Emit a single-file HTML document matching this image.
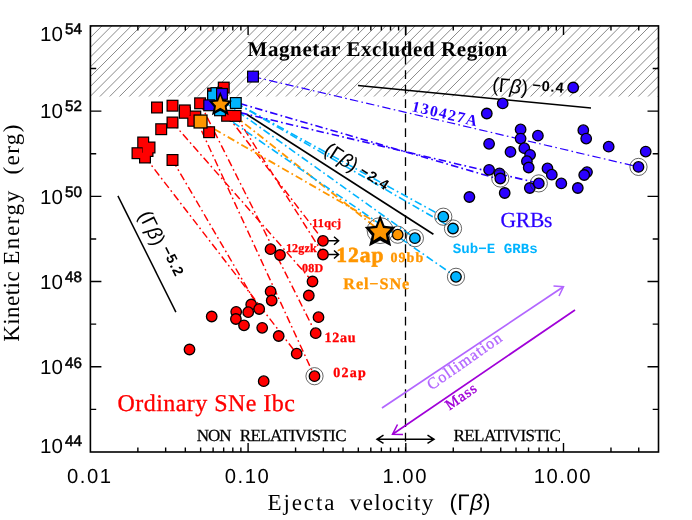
<!DOCTYPE html>
<html><head><meta charset="utf-8"><title>Kinetic energy vs ejecta velocity</title>
<style>html,body{margin:0;padding:0;background:#fff;}body{width:692px;height:520px;overflow:hidden;font-family:"Liberation Sans",sans-serif;}svg{display:block;will-change:transform;}text{text-rendering:geometricPrecision;}</style></head>
<body>
<svg width="692" height="520" viewBox="0 0 692 520">
<rect width="692" height="520" fill="#fff"/>
<defs>
<clipPath id="hc"><rect x="90.4" y="25.9" width="568.1" height="70.5"/></clipPath>
<clipPath id="pc"><rect x="90.4" y="25.9" width="568.1" height="426.1"/></clipPath>
</defs>
<g clip-path="url(#hc)" stroke="#6c6c6c" stroke-width="0.8" fill="none">
<line x1="-103.56" y1="25.90" x2="-178.56" y2="100.90"/>
<line x1="-93.77" y1="25.90" x2="-168.77" y2="100.90"/>
<line x1="-83.98" y1="25.90" x2="-158.98" y2="100.90"/>
<line x1="-74.20" y1="25.90" x2="-149.20" y2="100.90"/>
<line x1="-64.41" y1="25.90" x2="-139.41" y2="100.90"/>
<line x1="-54.62" y1="25.90" x2="-129.62" y2="100.90"/>
<line x1="-44.83" y1="25.90" x2="-119.83" y2="100.90"/>
<line x1="-35.04" y1="25.90" x2="-110.04" y2="100.90"/>
<line x1="-25.26" y1="25.90" x2="-100.26" y2="100.90"/>
<line x1="-15.47" y1="25.90" x2="-90.47" y2="100.90"/>
<line x1="-5.68" y1="25.90" x2="-80.68" y2="100.90"/>
<line x1="4.11" y1="25.90" x2="-70.89" y2="100.90"/>
<line x1="13.90" y1="25.90" x2="-61.10" y2="100.90"/>
<line x1="23.68" y1="25.90" x2="-51.32" y2="100.90"/>
<line x1="33.47" y1="25.90" x2="-41.53" y2="100.90"/>
<line x1="43.26" y1="25.90" x2="-31.74" y2="100.90"/>
<line x1="53.05" y1="25.90" x2="-21.95" y2="100.90"/>
<line x1="62.84" y1="25.90" x2="-12.16" y2="100.90"/>
<line x1="72.62" y1="25.90" x2="-2.38" y2="100.90"/>
<line x1="82.41" y1="25.90" x2="7.41" y2="100.90"/>
<line x1="92.20" y1="25.90" x2="17.20" y2="100.90"/>
<line x1="101.99" y1="25.90" x2="26.99" y2="100.90"/>
<line x1="111.78" y1="25.90" x2="36.78" y2="100.90"/>
<line x1="121.56" y1="25.90" x2="46.56" y2="100.90"/>
<line x1="131.35" y1="25.90" x2="56.35" y2="100.90"/>
<line x1="141.14" y1="25.90" x2="66.14" y2="100.90"/>
<line x1="150.93" y1="25.90" x2="75.93" y2="100.90"/>
<line x1="160.72" y1="25.90" x2="85.72" y2="100.90"/>
<line x1="170.50" y1="25.90" x2="95.50" y2="100.90"/>
<line x1="180.29" y1="25.90" x2="105.29" y2="100.90"/>
<line x1="190.08" y1="25.90" x2="115.08" y2="100.90"/>
<line x1="199.87" y1="25.90" x2="124.87" y2="100.90"/>
<line x1="209.66" y1="25.90" x2="134.66" y2="100.90"/>
<line x1="219.44" y1="25.90" x2="144.44" y2="100.90"/>
<line x1="229.23" y1="25.90" x2="154.23" y2="100.90"/>
<line x1="239.02" y1="25.90" x2="164.02" y2="100.90"/>
<line x1="248.81" y1="25.90" x2="173.81" y2="100.90"/>
<line x1="258.60" y1="25.90" x2="183.60" y2="100.90"/>
<line x1="268.38" y1="25.90" x2="193.38" y2="100.90"/>
<line x1="278.17" y1="25.90" x2="203.17" y2="100.90"/>
<line x1="287.96" y1="25.90" x2="212.96" y2="100.90"/>
<line x1="297.75" y1="25.90" x2="222.75" y2="100.90"/>
<line x1="307.54" y1="25.90" x2="232.54" y2="100.90"/>
<line x1="317.32" y1="25.90" x2="242.32" y2="100.90"/>
<line x1="327.11" y1="25.90" x2="252.11" y2="100.90"/>
<line x1="336.90" y1="25.90" x2="261.90" y2="100.90"/>
<line x1="346.69" y1="25.90" x2="271.69" y2="100.90"/>
<line x1="356.48" y1="25.90" x2="281.48" y2="100.90"/>
<line x1="366.26" y1="25.90" x2="291.26" y2="100.90"/>
<line x1="376.05" y1="25.90" x2="301.05" y2="100.90"/>
<line x1="385.84" y1="25.90" x2="310.84" y2="100.90"/>
<line x1="395.63" y1="25.90" x2="320.63" y2="100.90"/>
<line x1="405.42" y1="25.90" x2="330.42" y2="100.90"/>
<line x1="415.20" y1="25.90" x2="340.20" y2="100.90"/>
<line x1="424.99" y1="25.90" x2="349.99" y2="100.90"/>
<line x1="434.78" y1="25.90" x2="359.78" y2="100.90"/>
<line x1="444.57" y1="25.90" x2="369.57" y2="100.90"/>
<line x1="454.36" y1="25.90" x2="379.36" y2="100.90"/>
<line x1="464.14" y1="25.90" x2="389.14" y2="100.90"/>
<line x1="473.93" y1="25.90" x2="398.93" y2="100.90"/>
<line x1="483.72" y1="25.90" x2="408.72" y2="100.90"/>
<line x1="493.51" y1="25.90" x2="418.51" y2="100.90"/>
<line x1="503.30" y1="25.90" x2="428.30" y2="100.90"/>
<line x1="513.08" y1="25.90" x2="438.08" y2="100.90"/>
<line x1="522.87" y1="25.90" x2="447.87" y2="100.90"/>
<line x1="532.66" y1="25.90" x2="457.66" y2="100.90"/>
<line x1="542.45" y1="25.90" x2="467.45" y2="100.90"/>
<line x1="552.24" y1="25.90" x2="477.24" y2="100.90"/>
<line x1="562.02" y1="25.90" x2="487.02" y2="100.90"/>
<line x1="571.81" y1="25.90" x2="496.81" y2="100.90"/>
<line x1="581.60" y1="25.90" x2="506.60" y2="100.90"/>
<line x1="591.39" y1="25.90" x2="516.39" y2="100.90"/>
<line x1="601.18" y1="25.90" x2="526.18" y2="100.90"/>
<line x1="610.96" y1="25.90" x2="535.96" y2="100.90"/>
<line x1="620.75" y1="25.90" x2="545.75" y2="100.90"/>
<line x1="630.54" y1="25.90" x2="555.54" y2="100.90"/>
<line x1="640.33" y1="25.90" x2="565.33" y2="100.90"/>
<line x1="650.12" y1="25.90" x2="575.12" y2="100.90"/>
<line x1="659.90" y1="25.90" x2="584.90" y2="100.90"/>
<line x1="669.69" y1="25.90" x2="594.69" y2="100.90"/>
<line x1="679.48" y1="25.90" x2="604.48" y2="100.90"/>
<line x1="689.27" y1="25.90" x2="614.27" y2="100.90"/>
<line x1="699.06" y1="25.90" x2="624.06" y2="100.90"/>
<line x1="708.84" y1="25.90" x2="633.84" y2="100.90"/>
<line x1="718.63" y1="25.90" x2="643.63" y2="100.90"/>
<line x1="728.42" y1="25.90" x2="653.42" y2="100.90"/>
<line x1="738.21" y1="25.90" x2="663.21" y2="100.90"/>
</g>
<line x1="405.5" y1="25.9" x2="405.5" y2="452.0" stroke="#000" stroke-width="1.3" stroke-dasharray="8.8 5.7" stroke-dashoffset="-0.9"/>
<line x1="117.9" y1="195.9" x2="175.9" y2="312.1" stroke="#000" stroke-width="1.5"/>
<line x1="247" y1="114.5" x2="433.4" y2="234.3" stroke="#000" stroke-width="1.7"/>
<line x1="358" y1="85.5" x2="591" y2="108.1" stroke="#000" stroke-width="1.5"/>
<line x1="145.0" y1="157.0" x2="296.7" y2="353.7" stroke="#ff0000" stroke-width="1.45" stroke-dasharray="7.6 3.2 1.7 3.2" fill="none"/>
<line x1="172.5" y1="160.0" x2="259.2" y2="308.7" stroke="#ff0000" stroke-width="1.45" stroke-dasharray="7.6 3.2 1.7 3.2" fill="none"/>
<line x1="172.5" y1="122.5" x2="312.5" y2="281.5" stroke="#ff0000" stroke-width="1.45" stroke-dasharray="7.6 3.2 1.7 3.2" fill="none"/>
<line x1="195.0" y1="116.5" x2="314.5" y2="376.2" stroke="#ff0000" stroke-width="1.45" stroke-dasharray="7.6 3.2 1.7 3.2" fill="none"/>
<line x1="200.1" y1="103.3" x2="315.7" y2="333.2" stroke="#ff0000" stroke-width="1.45" stroke-dasharray="7.6 3.2 1.7 3.2" fill="none"/>
<line x1="227.1" y1="115.3" x2="323.0" y2="240.0" stroke="#ff0000" stroke-width="1.45" stroke-dasharray="7.6 3.2 1.7 3.2" fill="none"/>
<line x1="235.9" y1="115.9" x2="323.0" y2="253.7" stroke="#ff0000" stroke-width="1.45" stroke-dasharray="7.6 3.2 1.7 3.2" fill="none"/>
<line x1="220.5" y1="104.6" x2="379.7" y2="230.6" stroke="#ff9600" stroke-width="1.80" stroke-dasharray="7.6 3.2 1.7 3.2" fill="none"/>
<line x1="200.5" y1="121.2" x2="397.7" y2="234.7" stroke="#ff9600" stroke-width="1.80" stroke-dasharray="7.6 3.2 1.7 3.2" fill="none"/>
<line x1="212.4" y1="93.3" x2="414.9" y2="238.2" stroke="#00b4ff" stroke-width="1.60" stroke-dasharray="7.6 3.2 1.7 3.2" fill="none"/>
<line x1="220.2" y1="113.4" x2="456.0" y2="276.8" stroke="#00b4ff" stroke-width="1.60" stroke-dasharray="7.6 3.2 1.7 3.2" fill="none"/>
<line x1="235.9" y1="103.0" x2="443.3" y2="216.7" stroke="#00b4ff" stroke-width="1.60" stroke-dasharray="7.6 3.2 1.7 3.2" fill="none"/>
<line x1="235.9" y1="103.0" x2="453.0" y2="228.5" stroke="#00b4ff" stroke-width="1.60" stroke-dasharray="7.6 3.2 1.7 3.2" fill="none"/>
<line x1="240.0" y1="103.6" x2="499.7" y2="179.3" stroke="#2a00ff" stroke-width="1.60" stroke-dasharray="7.6 3.2 1.7 3.2" fill="none"/>
<line x1="240.0" y1="112.6" x2="538.7" y2="183.2" stroke="#2a00ff" stroke-width="1.60" stroke-dasharray="7.6 3.2 1.7 3.2" fill="none"/>
<line x1="253.0" y1="76.6" x2="638.5" y2="166.9" stroke="#2a00ff" stroke-width="1.20" stroke-dasharray="8.4 3.3 1.6 3.3" fill="none"/>
<rect x="207.70" y="88.20" width="10.80" height="10.80" fill="#ff0000" stroke="#000" stroke-width="1.20"/>
<rect x="217.75" y="81.60" width="12" height="12" fill="#000"/>
<rect x="151.00" y="101.50" width="12" height="12" fill="#000"/>
<rect x="166.50" y="99.70" width="12" height="12" fill="#000"/>
<rect x="178.80" y="104.40" width="12" height="12" fill="#000"/>
<rect x="178.80" y="106.80" width="12" height="12" fill="#000"/>
<rect x="194.10" y="97.30" width="12" height="12" fill="#000"/>
<rect x="187.20" y="114.80" width="12" height="12" fill="#000"/>
<rect x="189.30" y="110.50" width="12" height="12" fill="#000"/>
<rect x="166.50" y="116.50" width="12" height="12" fill="#000"/>
<rect x="155.20" y="123.20" width="12" height="12" fill="#000"/>
<rect x="203.10" y="126.20" width="12" height="12" fill="#000"/>
<rect x="166.50" y="154.00" width="12" height="12" fill="#000"/>
<rect x="137.20" y="136.50" width="12" height="12" fill="#000"/>
<rect x="143.50" y="141.50" width="12" height="12" fill="#000"/>
<rect x="131.50" y="147.20" width="12" height="12" fill="#000"/>
<rect x="141.50" y="145.00" width="12" height="12" fill="#000"/>
<rect x="139.00" y="151.50" width="12" height="12" fill="#000"/>
<rect x="221.10" y="109.80" width="12" height="12" fill="#000"/>
<rect x="229.60" y="109.90" width="12" height="12" fill="#000"/>
<rect x="218.95" y="82.80" width="9.6" height="9.6" fill="#ff0000"/>
<rect x="152.20" y="102.70" width="9.6" height="9.6" fill="#ff0000"/>
<rect x="167.70" y="100.90" width="9.6" height="9.6" fill="#ff0000"/>
<rect x="180.00" y="105.60" width="9.6" height="9.6" fill="#ff0000"/>
<rect x="180.00" y="108.00" width="9.6" height="9.6" fill="#ff0000"/>
<rect x="195.30" y="98.50" width="9.6" height="9.6" fill="#ff0000"/>
<rect x="188.40" y="116.00" width="9.6" height="9.6" fill="#ff0000"/>
<rect x="190.50" y="111.70" width="9.6" height="9.6" fill="#ff0000"/>
<rect x="167.70" y="117.70" width="9.6" height="9.6" fill="#ff0000"/>
<rect x="156.40" y="124.40" width="9.6" height="9.6" fill="#ff0000"/>
<rect x="204.30" y="127.40" width="9.6" height="9.6" fill="#ff0000"/>
<rect x="167.70" y="155.20" width="9.6" height="9.6" fill="#ff0000"/>
<rect x="138.40" y="137.70" width="9.6" height="9.6" fill="#ff0000"/>
<rect x="144.70" y="142.70" width="9.6" height="9.6" fill="#ff0000"/>
<rect x="132.70" y="148.40" width="9.6" height="9.6" fill="#ff0000"/>
<rect x="142.70" y="146.20" width="9.6" height="9.6" fill="#ff0000"/>
<rect x="140.20" y="152.70" width="9.6" height="9.6" fill="#ff0000"/>
<rect x="222.30" y="111.00" width="9.6" height="9.6" fill="#ff0000"/>
<rect x="230.80" y="111.10" width="9.6" height="9.6" fill="#ff0000"/>
<circle cx="323.00" cy="240.80" r="5.25" fill="#ff0000" stroke="#000" stroke-width="1.30"/>
<circle cx="323.00" cy="254.50" r="5.25" fill="#ff0000" stroke="#000" stroke-width="1.30"/>
<circle cx="270.50" cy="249.20" r="5.25" fill="#ff0000" stroke="#000" stroke-width="1.30"/>
<circle cx="280.00" cy="255.00" r="5.25" fill="#ff0000" stroke="#000" stroke-width="1.30"/>
<circle cx="312.50" cy="281.50" r="5.25" fill="#ff0000" stroke="#000" stroke-width="1.30"/>
<circle cx="308.80" cy="295.50" r="5.25" fill="#ff0000" stroke="#000" stroke-width="1.30"/>
<circle cx="270.60" cy="291.40" r="5.25" fill="#ff0000" stroke="#000" stroke-width="1.30"/>
<circle cx="271.70" cy="300.50" r="5.25" fill="#ff0000" stroke="#000" stroke-width="1.30"/>
<circle cx="251.20" cy="304.50" r="5.25" fill="#ff0000" stroke="#000" stroke-width="1.30"/>
<circle cx="259.20" cy="309.00" r="5.25" fill="#ff0000" stroke="#000" stroke-width="1.30"/>
<circle cx="236.20" cy="311.80" r="5.25" fill="#ff0000" stroke="#000" stroke-width="1.30"/>
<circle cx="248.20" cy="312.20" r="5.25" fill="#ff0000" stroke="#000" stroke-width="1.30"/>
<circle cx="211.70" cy="316.50" r="5.25" fill="#ff0000" stroke="#000" stroke-width="1.30"/>
<circle cx="235.90" cy="319.00" r="5.25" fill="#ff0000" stroke="#000" stroke-width="1.30"/>
<circle cx="244.00" cy="325.30" r="5.25" fill="#ff0000" stroke="#000" stroke-width="1.30"/>
<circle cx="262.20" cy="327.80" r="5.25" fill="#ff0000" stroke="#000" stroke-width="1.30"/>
<circle cx="318.50" cy="317.20" r="5.25" fill="#ff0000" stroke="#000" stroke-width="1.30"/>
<circle cx="315.70" cy="333.20" r="5.25" fill="#ff0000" stroke="#000" stroke-width="1.30"/>
<circle cx="278.70" cy="336.00" r="5.25" fill="#ff0000" stroke="#000" stroke-width="1.30"/>
<circle cx="296.70" cy="353.70" r="5.25" fill="#ff0000" stroke="#000" stroke-width="1.30"/>
<circle cx="189.50" cy="349.50" r="5.25" fill="#ff0000" stroke="#000" stroke-width="1.30"/>
<circle cx="263.70" cy="381.20" r="5.25" fill="#ff0000" stroke="#000" stroke-width="1.30"/>
<circle cx="314.50" cy="376.20" r="8.60" fill="none" stroke="#222" stroke-width="0.7"/>
<circle cx="314.50" cy="376.20" r="5.25" fill="#ff0000" stroke="#000" stroke-width="1.30"/>
<path d="M328.5 240.8 H338.3 M334 236.8 L338.6 240.8 L334 244.8" stroke="#000" stroke-width="1.5" fill="none"/>
<path d="M328.5 254.5 H338.3 M334 250.5 L338.6 254.5 L334 258.5" stroke="#000" stroke-width="1.5" fill="none"/>
<circle cx="573.20" cy="87.50" r="5.25" fill="#2a00ff" stroke="#000" stroke-width="1.30"/>
<circle cx="502.70" cy="103.40" r="5.25" fill="#2a00ff" stroke="#000" stroke-width="1.30"/>
<circle cx="486.80" cy="113.50" r="5.25" fill="#2a00ff" stroke="#000" stroke-width="1.30"/>
<circle cx="520.60" cy="129.40" r="5.25" fill="#2a00ff" stroke="#000" stroke-width="1.30"/>
<circle cx="520.60" cy="138.60" r="5.25" fill="#2a00ff" stroke="#000" stroke-width="1.30"/>
<circle cx="537.90" cy="135.70" r="5.25" fill="#2a00ff" stroke="#000" stroke-width="1.30"/>
<circle cx="583.30" cy="130.20" r="5.25" fill="#2a00ff" stroke="#000" stroke-width="1.30"/>
<circle cx="586.20" cy="138.60" r="5.25" fill="#2a00ff" stroke="#000" stroke-width="1.30"/>
<circle cx="489.10" cy="143.80" r="5.25" fill="#2a00ff" stroke="#000" stroke-width="1.30"/>
<circle cx="510.50" cy="151.90" r="5.25" fill="#2a00ff" stroke="#000" stroke-width="1.30"/>
<circle cx="524.30" cy="148.20" r="5.25" fill="#2a00ff" stroke="#000" stroke-width="1.30"/>
<circle cx="530.10" cy="154.80" r="5.25" fill="#2a00ff" stroke="#000" stroke-width="1.30"/>
<circle cx="526.90" cy="161.20" r="5.25" fill="#2a00ff" stroke="#000" stroke-width="1.30"/>
<circle cx="528.70" cy="167.50" r="5.25" fill="#2a00ff" stroke="#000" stroke-width="1.30"/>
<circle cx="608.70" cy="146.70" r="5.25" fill="#2a00ff" stroke="#000" stroke-width="1.30"/>
<circle cx="645.70" cy="151.60" r="5.25" fill="#2a00ff" stroke="#000" stroke-width="1.30"/>
<circle cx="489.10" cy="169.80" r="5.25" fill="#2a00ff" stroke="#000" stroke-width="1.30"/>
<circle cx="499.50" cy="173.30" r="5.25" fill="#2a00ff" stroke="#000" stroke-width="1.30"/>
<circle cx="547.50" cy="168.40" r="5.25" fill="#2a00ff" stroke="#000" stroke-width="1.30"/>
<circle cx="551.80" cy="174.70" r="5.25" fill="#2a00ff" stroke="#000" stroke-width="1.30"/>
<circle cx="587.00" cy="172.10" r="5.25" fill="#2a00ff" stroke="#000" stroke-width="1.30"/>
<circle cx="584.20" cy="175.00" r="5.25" fill="#2a00ff" stroke="#000" stroke-width="1.30"/>
<circle cx="529.80" cy="188.00" r="5.25" fill="#2a00ff" stroke="#000" stroke-width="1.30"/>
<circle cx="561.30" cy="183.40" r="5.25" fill="#2a00ff" stroke="#000" stroke-width="1.30"/>
<circle cx="577.80" cy="188.00" r="5.25" fill="#2a00ff" stroke="#000" stroke-width="1.30"/>
<circle cx="504.70" cy="193.00" r="5.25" fill="#2a00ff" stroke="#000" stroke-width="1.30"/>
<circle cx="469.40" cy="197.00" r="5.25" fill="#2a00ff" stroke="#000" stroke-width="1.30"/>
<circle cx="638.50" cy="166.90" r="8.60" fill="none" stroke="#222" stroke-width="0.7"/>
<circle cx="638.50" cy="166.90" r="5.25" fill="#2a00ff" stroke="#000" stroke-width="1.30"/>
<circle cx="500.30" cy="178.50" r="8.60" fill="none" stroke="#222" stroke-width="0.7"/>
<circle cx="500.30" cy="178.50" r="5.25" fill="#2a00ff" stroke="#000" stroke-width="1.30"/>
<circle cx="538.80" cy="183.40" r="8.60" fill="none" stroke="#222" stroke-width="0.7"/>
<circle cx="538.80" cy="183.40" r="5.25" fill="#2a00ff" stroke="#000" stroke-width="1.30"/>
<circle cx="414.90" cy="238.20" r="8.60" fill="none" stroke="#222" stroke-width="0.7"/>
<circle cx="414.90" cy="238.20" r="5.25" fill="#00b4ff" stroke="#000" stroke-width="1.30"/>
<circle cx="443.30" cy="216.70" r="8.60" fill="none" stroke="#222" stroke-width="0.7"/>
<circle cx="443.30" cy="216.70" r="5.25" fill="#00b4ff" stroke="#000" stroke-width="1.30"/>
<circle cx="453.00" cy="228.50" r="8.60" fill="none" stroke="#222" stroke-width="0.7"/>
<circle cx="453.00" cy="228.50" r="5.25" fill="#00b4ff" stroke="#000" stroke-width="1.30"/>
<circle cx="456.00" cy="276.80" r="8.60" fill="none" stroke="#222" stroke-width="0.7"/>
<circle cx="456.00" cy="276.80" r="5.25" fill="#00b4ff" stroke="#000" stroke-width="1.30"/>
<circle cx="397.70" cy="234.70" r="8.60" fill="none" stroke="#222" stroke-width="0.7"/>
<circle cx="397.70" cy="234.70" r="5.25" fill="#ff9600" stroke="#000" stroke-width="1.30"/>
<rect x="210.40" y="87.10" width="12" height="12" fill="#000"/>
<rect x="207.10" y="90.50" width="12" height="12" fill="#000"/>
<rect x="211.60" y="88.30" width="9.6" height="9.6" fill="#00b4ff"/>
<rect x="208.30" y="91.70" width="9.6" height="9.6" fill="#00b4ff"/>
<rect x="216.60" y="88.50" width="10.80" height="10.80" fill="#2a00ff" stroke="#000" stroke-width="1.20"/>
<rect x="203.80" y="99.90" width="10.80" height="10.80" fill="#2a00ff" stroke="#000" stroke-width="1.20"/>
<rect x="230.40" y="97.60" width="10.80" height="10.80" fill="#00b4ff" stroke="#000" stroke-width="1.20"/>
<rect x="214.60" y="104.90" width="10.80" height="10.80" fill="#00b4ff" stroke="#000" stroke-width="1.20"/>
<rect x="247.60" y="71.20" width="10.80" height="10.80" fill="#2a00ff" stroke="#000" stroke-width="1.20"/>
<rect x="194.10" y="115.05" width="12.90" height="12.90" fill="#ff9600" stroke="#000" stroke-width="1.30"/>
<polygon points="220.30,91.39 223.61,99.75 231.97,100.74 226.65,107.04 228.70,115.25 220.30,110.84 211.90,115.25 213.95,107.04 208.63,100.74 216.99,99.75" fill="#000"/>
<polygon points="220.30,95.64 222.54,101.50 228.09,102.03 224.59,105.83 225.43,110.84 220.30,107.65 215.17,110.84 216.01,105.83 212.51,102.03 218.06,101.50" fill="#ff9600"/>
<circle cx="380.1" cy="230.6" r="13" fill="none" stroke="#222" stroke-width="0.7"/>
<polygon points="380.15,214.80 384.50,225.80 395.50,227.10 388.50,235.40 391.20,246.20 380.15,240.40 369.10,246.20 371.80,235.40 364.80,227.10 375.80,225.80" fill="#000"/>
<polygon points="380.15,220.40 383.10,228.10 390.40,228.80 385.80,233.80 386.90,240.40 380.15,236.20 373.40,240.40 374.50,233.80 369.90,228.80 377.20,228.10" fill="#ff9600"/>
<path d="M382 408 L563 287" stroke="#b266ff" stroke-width="1.7" fill="none"/>
<path d="M553.5 286 L563.5 286.7 L559 296" stroke="#b266ff" stroke-width="1.5" fill="none"/>
<path d="M575 310 L393 434" stroke="#a000d8" stroke-width="1.7" fill="none"/>
<path d="M397.5 424.5 L392.5 434.3 L403 434.5" stroke="#a000d8" stroke-width="1.5" fill="none"/>
<path d="M377 439.3 H434 M383.5 435.2 L377 439.3 L383.5 443.4 M427.5 435.2 L434 439.3 L427.5 443.4" stroke="#000" stroke-width="1.5" fill="none"/>
<rect x="90.40" y="25.90" width="568.10" height="426.10" fill="none" stroke="#000" stroke-width="1.6"/>
<path d="M137.87 452.00 v-4.60 M137.87 25.90 v4.60 M165.64 452.00 v-4.60 M165.64 25.90 v4.60 M185.34 452.00 v-4.60 M185.34 25.90 v4.60 M200.63 452.00 v-4.60 M200.63 25.90 v4.60 M213.11 452.00 v-4.60 M213.11 25.90 v4.60 M223.67 452.00 v-4.60 M223.67 25.90 v4.60 M232.82 452.00 v-4.60 M232.82 25.90 v4.60 M240.88 452.00 v-4.60 M240.88 25.90 v4.60 M248.10 452.00 v-9.00 M248.10 25.90 v9.00 M295.57 452.00 v-4.60 M295.57 25.90 v4.60 M323.34 452.00 v-4.60 M323.34 25.90 v4.60 M343.04 452.00 v-4.60 M343.04 25.90 v4.60 M358.33 452.00 v-4.60 M358.33 25.90 v4.60 M370.81 452.00 v-4.60 M370.81 25.90 v4.60 M381.37 452.00 v-4.60 M381.37 25.90 v4.60 M390.52 452.00 v-4.60 M390.52 25.90 v4.60 M398.58 452.00 v-4.60 M398.58 25.90 v4.60 M405.80 452.00 v-9.00 M405.80 25.90 v9.00 M453.27 452.00 v-4.60 M453.27 25.90 v4.60 M481.04 452.00 v-4.60 M481.04 25.90 v4.60 M500.74 452.00 v-4.60 M500.74 25.90 v4.60 M516.03 452.00 v-4.60 M516.03 25.90 v4.60 M528.51 452.00 v-4.60 M528.51 25.90 v4.60 M539.07 452.00 v-4.60 M539.07 25.90 v4.60 M548.22 452.00 v-4.60 M548.22 25.90 v4.60 M556.28 452.00 v-4.60 M556.28 25.90 v4.60 M563.50 452.00 v-9.00 M563.50 25.90 v9.00 M610.97 452.00 v-4.60 M610.97 25.90 v4.60 M638.74 452.00 v-4.60 M638.74 25.90 v4.60 M90.40 409.39 h5.80 M658.50 409.39 h-5.80 M90.40 366.78 h11.00 M658.50 366.78 h-11.00 M90.40 324.17 h5.80 M658.50 324.17 h-5.80 M90.40 281.56 h11.00 M658.50 281.56 h-11.00 M90.40 238.95 h5.80 M658.50 238.95 h-5.80 M90.40 196.34 h11.00 M658.50 196.34 h-11.00 M90.40 153.73 h5.80 M658.50 153.73 h-5.80 M90.40 111.12 h11.00 M658.50 111.12 h-11.00 M90.40 68.51 h5.80 M658.50 68.51 h-5.80" stroke="#000" stroke-width="1.4" fill="none"/>
<text x="40.00" y="40.70" font-family='"Liberation Sans", sans-serif' font-size="20.50" fill="#000" font-weight="normal" font-style="normal" text-anchor="start" letter-spacing="0.20">10</text>
<text x="65.00" y="34.00" font-family='"Liberation Sans", sans-serif' font-size="15.20" fill="#000" font-weight="normal" font-style="normal" text-anchor="start" letter-spacing="0.00" stroke="#000" stroke-width="0.5">54</text>
<text x="40.00" y="118.00" font-family='"Liberation Sans", sans-serif' font-size="20.50" fill="#000" font-weight="normal" font-style="normal" text-anchor="start" letter-spacing="0.20">10</text>
<text x="65.00" y="111.30" font-family='"Liberation Sans", sans-serif' font-size="15.20" fill="#000" font-weight="normal" font-style="normal" text-anchor="start" letter-spacing="0.00" stroke="#000" stroke-width="0.5">52</text>
<text x="40.00" y="203.50" font-family='"Liberation Sans", sans-serif' font-size="20.50" fill="#000" font-weight="normal" font-style="normal" text-anchor="start" letter-spacing="0.20">10</text>
<text x="65.00" y="196.80" font-family='"Liberation Sans", sans-serif' font-size="15.20" fill="#000" font-weight="normal" font-style="normal" text-anchor="start" letter-spacing="0.00" stroke="#000" stroke-width="0.5">50</text>
<text x="40.00" y="289.00" font-family='"Liberation Sans", sans-serif' font-size="20.50" fill="#000" font-weight="normal" font-style="normal" text-anchor="start" letter-spacing="0.20">10</text>
<text x="65.00" y="282.30" font-family='"Liberation Sans", sans-serif' font-size="15.20" fill="#000" font-weight="normal" font-style="normal" text-anchor="start" letter-spacing="0.00" stroke="#000" stroke-width="0.5">48</text>
<text x="40.00" y="374.20" font-family='"Liberation Sans", sans-serif' font-size="20.50" fill="#000" font-weight="normal" font-style="normal" text-anchor="start" letter-spacing="0.20">10</text>
<text x="65.00" y="367.50" font-family='"Liberation Sans", sans-serif' font-size="15.20" fill="#000" font-weight="normal" font-style="normal" text-anchor="start" letter-spacing="0.00" stroke="#000" stroke-width="0.5">46</text>
<text x="40.00" y="452.60" font-family='"Liberation Sans", sans-serif' font-size="20.50" fill="#000" font-weight="normal" font-style="normal" text-anchor="start" letter-spacing="0.20">10</text>
<text x="65.00" y="445.90" font-family='"Liberation Sans", sans-serif' font-size="15.20" fill="#000" font-weight="normal" font-style="normal" text-anchor="start" letter-spacing="0.00" stroke="#000" stroke-width="0.5">44</text>
<text x="89.80" y="483.40" font-family='"Liberation Sans", sans-serif' font-size="20.30" fill="#000" font-weight="normal" font-style="normal" text-anchor="middle" letter-spacing="1.50">0.01</text>
<text x="247.50" y="483.40" font-family='"Liberation Sans", sans-serif' font-size="20.30" fill="#000" font-weight="normal" font-style="normal" text-anchor="middle" letter-spacing="1.50">0.10</text>
<text x="405.20" y="483.40" font-family='"Liberation Sans", sans-serif' font-size="20.30" fill="#000" font-weight="normal" font-style="normal" text-anchor="middle" letter-spacing="1.50">1.00</text>
<text x="562.90" y="483.40" font-family='"Liberation Sans", sans-serif' font-size="20.30" fill="#000" font-weight="normal" font-style="normal" text-anchor="middle" letter-spacing="1.50">10.00</text>
<text x="267.50" y="509.80" font-family='"Liberation Serif", serif' font-size="23.00" fill="#000" font-weight="normal" font-style="normal" text-anchor="start" letter-spacing="1.90">Ejecta</text>
<text x="349.80" y="509.80" font-family='"Liberation Serif", serif' font-size="23.00" fill="#000" font-weight="normal" font-style="normal" text-anchor="start" letter-spacing="1.35">velocity</text>
<text x="449.60" y="509.80" font-family='"Liberation Sans", sans-serif' font-size="22.50" fill="#000" font-weight="normal" font-style="normal" text-anchor="start" letter-spacing="0.20">(&#915;<tspan font-style="italic">&#946;</tspan>)</text>
<text x="19.40" y="341.80" font-family='"Liberation Serif", serif' font-size="23.00" fill="#000" font-weight="normal" font-style="normal" text-anchor="start" letter-spacing="0.45" transform="rotate(-90.00 19.40 341.80)">Kinetic</text>
<text x="19.40" y="264.80" font-family='"Liberation Serif", serif' font-size="23.00" fill="#000" font-weight="normal" font-style="normal" text-anchor="start" letter-spacing="1.60" transform="rotate(-90.00 19.40 264.80)">Energy</text>
<text x="19.40" y="174.60" font-family='"Liberation Serif", serif' font-size="23.00" fill="#000" font-weight="normal" font-style="normal" text-anchor="start" letter-spacing="1.45" transform="rotate(-90.00 19.40 174.60)">(erg)</text>
<text x="247.50" y="56.20" font-family='"Liberation Serif", serif' font-size="21.00" fill="#000" font-weight="bold" font-style="normal" text-anchor="start" letter-spacing="0.60">Magnetar Excluded Region</text>
<text x="500.50" y="227.00" font-family='"Liberation Serif", serif' font-size="21.50" fill="#2a00ff" font-weight="normal" font-style="normal" text-anchor="start" letter-spacing="-0.20" stroke="#2a00ff" stroke-width="0.25">GRBs</text>
<text x="452.80" y="253.40" font-family='"Liberation Mono", monospace' font-size="14.15" fill="#00b4ff" font-weight="bold" font-style="normal" text-anchor="start" letter-spacing="0.00">Sub&#8722;E GRBs</text>
<text x="336.30" y="261.80" font-family='"Liberation Serif", serif' font-size="21.50" fill="#ff9600" font-weight="bold" font-style="normal" text-anchor="start" letter-spacing="1.00" stroke="#ff9600" stroke-width="0.6">12ap</text>
<text x="390.40" y="261.70" font-family='"Liberation Serif", serif' font-size="14.00" fill="#ff9600" font-weight="bold" font-style="normal" text-anchor="start" letter-spacing="1.10" stroke="#ff9600" stroke-width="0.3">09bb</text>
<text x="343.30" y="288.80" font-family='"Liberation Serif", serif' font-size="16.20" fill="#ff9600" font-weight="bold" font-style="normal" text-anchor="start" letter-spacing="0.90" stroke="#ff9600" stroke-width="0.3">Rel&#8722;SNe</text>
<text x="117.50" y="411.10" font-family='"Liberation Serif", serif' font-size="24.00" fill="#ff0000" font-weight="normal" font-style="normal" text-anchor="start" letter-spacing="0.45" stroke="#f00" stroke-width="0.3">Ordinary SNe Ibc</text>
<text x="196.80" y="440.50" font-family='"Liberation Serif", serif' font-size="17.00" fill="#000" font-weight="normal" font-style="normal" text-anchor="start" letter-spacing="-1.00" stroke="#000" stroke-width="0.25">NON</text>
<text x="239.80" y="440.50" font-family='"Liberation Serif", serif' font-size="17.00" fill="#000" font-weight="normal" font-style="normal" text-anchor="start" letter-spacing="-0.60" stroke="#000" stroke-width="0.25">RELATIVISTIC</text>
<text x="453.50" y="440.50" font-family='"Liberation Serif", serif' font-size="17.00" fill="#000" font-weight="normal" font-style="normal" text-anchor="start" letter-spacing="-0.55" stroke="#000" stroke-width="0.25">RELATIVISTIC</text>
<text x="311.90" y="226.80" font-family='"Liberation Serif", serif' font-size="12.00" fill="#ff0000" font-weight="bold" font-style="normal" text-anchor="start" letter-spacing="0.45" stroke="#f00" stroke-width="0.3">11qcj</text>
<text x="285.90" y="251.50" font-family='"Liberation Serif", serif' font-size="12.00" fill="#ff0000" font-weight="bold" font-style="normal" text-anchor="start" letter-spacing="0.20" stroke="#f00" stroke-width="0.3">12gzk</text>
<text x="302.00" y="272.20" font-family='"Liberation Serif", serif' font-size="12.00" fill="#ff0000" font-weight="bold" font-style="normal" text-anchor="start" letter-spacing="0.30" stroke="#f00" stroke-width="0.3">08D</text>
<text x="324.60" y="342.10" font-family='"Liberation Serif", serif' font-size="14.00" fill="#ff0000" font-weight="bold" font-style="normal" text-anchor="start" letter-spacing="0.75" stroke="#f00" stroke-width="0.3">12au</text>
<text x="333.30" y="377.40" font-family='"Liberation Serif", serif' font-size="14.00" fill="#ff0000" font-weight="bold" font-style="normal" text-anchor="start" letter-spacing="1.25" stroke="#f00" stroke-width="0.3">02ap</text>
<text x="431.50" y="390.50" font-family='"Liberation Serif", serif' font-size="16.00" fill="#b266ff" font-weight="normal" font-style="normal" text-anchor="start" letter-spacing="1.10" transform="rotate(-35.00 431.50 390.50)" stroke="#b266ff" stroke-width="0.3">Collimation</text>
<text x="449.50" y="410.50" font-family='"Liberation Serif", serif' font-size="15.00" fill="#a000d8" font-weight="normal" font-style="normal" text-anchor="start" letter-spacing="1.00" transform="rotate(-35.00 449.50 410.50)" stroke="#a000d8" stroke-width="0.4">Mass</text>
<text x="411.00" y="111.00" font-family='"Liberation Serif", serif' font-size="15.50" fill="#2a00ff" font-weight="bold" font-style="normal" text-anchor="start" letter-spacing="1.50" transform="rotate(13.20 411.00 111.00)">130427A</text>
<g transform="translate(491.70 91.00) rotate(5.50)">
<text x="0" y="0" font-family='"Liberation Sans", sans-serif' font-size="20.0" fill="#000">(&#915;<tspan font-style="italic">&#946;</tspan>)</text>
<text x="40.0" y="-5.0" font-family='"Liberation Sans", sans-serif' font-size="14.5" font-weight="bold" letter-spacing="0.9" fill="#000">&#8722;0.4</text>
</g>
<g transform="translate(322.70 153.00) rotate(33.00)">
<text x="0" y="0" font-family='"Liberation Sans", sans-serif' font-size="20.0" fill="#000">(&#915;<tspan font-style="italic">&#946;</tspan>)</text>
<text x="41.0" y="-2.4" font-family='"Liberation Sans", sans-serif' font-size="14.5" font-weight="bold" letter-spacing="0.9" fill="#000">&#8722;2.4</text>
</g>
<g transform="translate(138.00 215.00) rotate(63.40)">
<text x="0" y="0" font-family='"Liberation Sans", sans-serif' font-size="20.0" fill="#000">(&#915;<tspan font-style="italic">&#946;</tspan>)</text>
<text x="40.8" y="-5.6" font-family='"Liberation Sans", sans-serif' font-size="14.5" font-weight="bold" letter-spacing="0.9" fill="#000">&#8722;5.2</text>
</g>
</svg>
</body></html>
